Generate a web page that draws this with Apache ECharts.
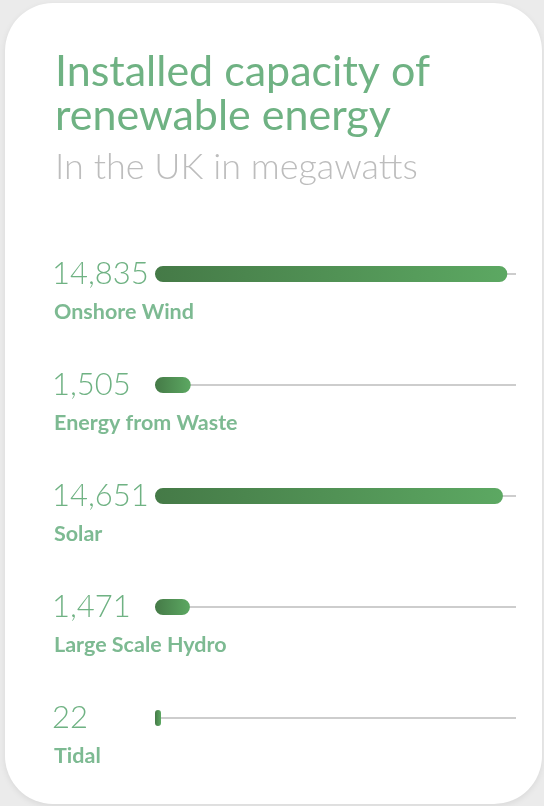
<!DOCTYPE html>
<html>
<head>
<meta charset="utf-8">
<script src="https://cdn.jsdelivr.net/npm/echarts@6/dist/echarts.min.js"></script>
<style>
  html, body { margin: 0; padding: 0; background: #ebebeb; }
  #card {
    position: absolute; left: 5px; top: 3px; width: 537px; height: 801px;
    background: #fff; border-radius: 48px;
    box-shadow: 0 2px 6px rgba(0,0,0,0.08);
  }
  #main { position: absolute; left: 0; top: 0; width: 544px; height: 806px; }
</style>
</head>
<body>
<div id="card"></div>
<div id="main"></div>
<script>
// installed capacity, MW
var categories = ['Onshore Wind', 'Energy from Waste', 'Solar', 'Large Scale Hydro', 'Tidal'];
var values = [14835, 1505, 14651, 1471, 22];
var valueLabels = values.map(function (v) { return v.toLocaleString('en-US'); });

var green = '#6fb283';

var chart = echarts.init(document.getElementById('main'));
var option = {
  backgroundColor: 'transparent',
  title: {
    text: 'Installed capacity of\nrenewable energy',
    subtext: 'In the UK in megawatts',
    left: 50,
    top: 45,
    itemGap: 7,
    textStyle: {
      fontFamily: 'Lato',
      fontSize: 43,
      fontWeight: 'normal',
      lineHeight: 44,
      color: green
    },
    subtextStyle: {
      fontFamily: 'Lato',
      fontSize: 36,
      fontWeight: 300,
      lineHeight: 44,
      color: '#bdbdbd'
    }
  },
  grid: {
    left: 155,
    right: 28,
    top: 274,
    bottom: 88
  },
  xAxis: {
    type: 'value',
    min: 0,
    max: 15200,
    show: false
  },
  yAxis: [
    {
      type: 'category',
      data: valueLabels,
      inverse: true,
      boundaryGap: false,
      axisLine: { show: false },
      axisTick: { show: false },
      splitLine: { show: true, lineStyle: { color: '#bcbcbc', width: 1.5 } },
      axisLabel: {
        align: 'left',
        margin: 103,
        fontFamily: 'Lato',
        fontSize: 31,
        fontWeight: 300,
        color: green
      }
    },
    {
      type: 'category',
      data: categories,
      inverse: true,
      boundaryGap: false,
      position: 'left',
      axisLine: { show: false },
      axisTick: { show: false },
      splitLine: { show: false },
      axisLabel: {
        align: 'left',
        verticalAlign: 'top',
        margin: 101,
        padding: [26, 0, 0, 0],
        lineHeight: 24,
        fontFamily: 'Lato',
        fontSize: 21.5,
        fontWeight: 'bold',
        color: '#7dba92'
      }
    }
  ],
  series: [
    {
      type: 'bar',
      yAxisIndex: 0,
      data: values,
      barWidth: 16,
      barMinHeight: 6,
      itemStyle: {
        borderRadius: 8,
        color: new echarts.graphic.LinearGradient(0, 0, 1, 0, [
          { offset: 0, color: '#457a47' },
          { offset: 1, color: '#5ca862' }
        ])
      },
      silent: true
    }
  ]
};
chart.setOption(option);
</script>
</body>
</html>
